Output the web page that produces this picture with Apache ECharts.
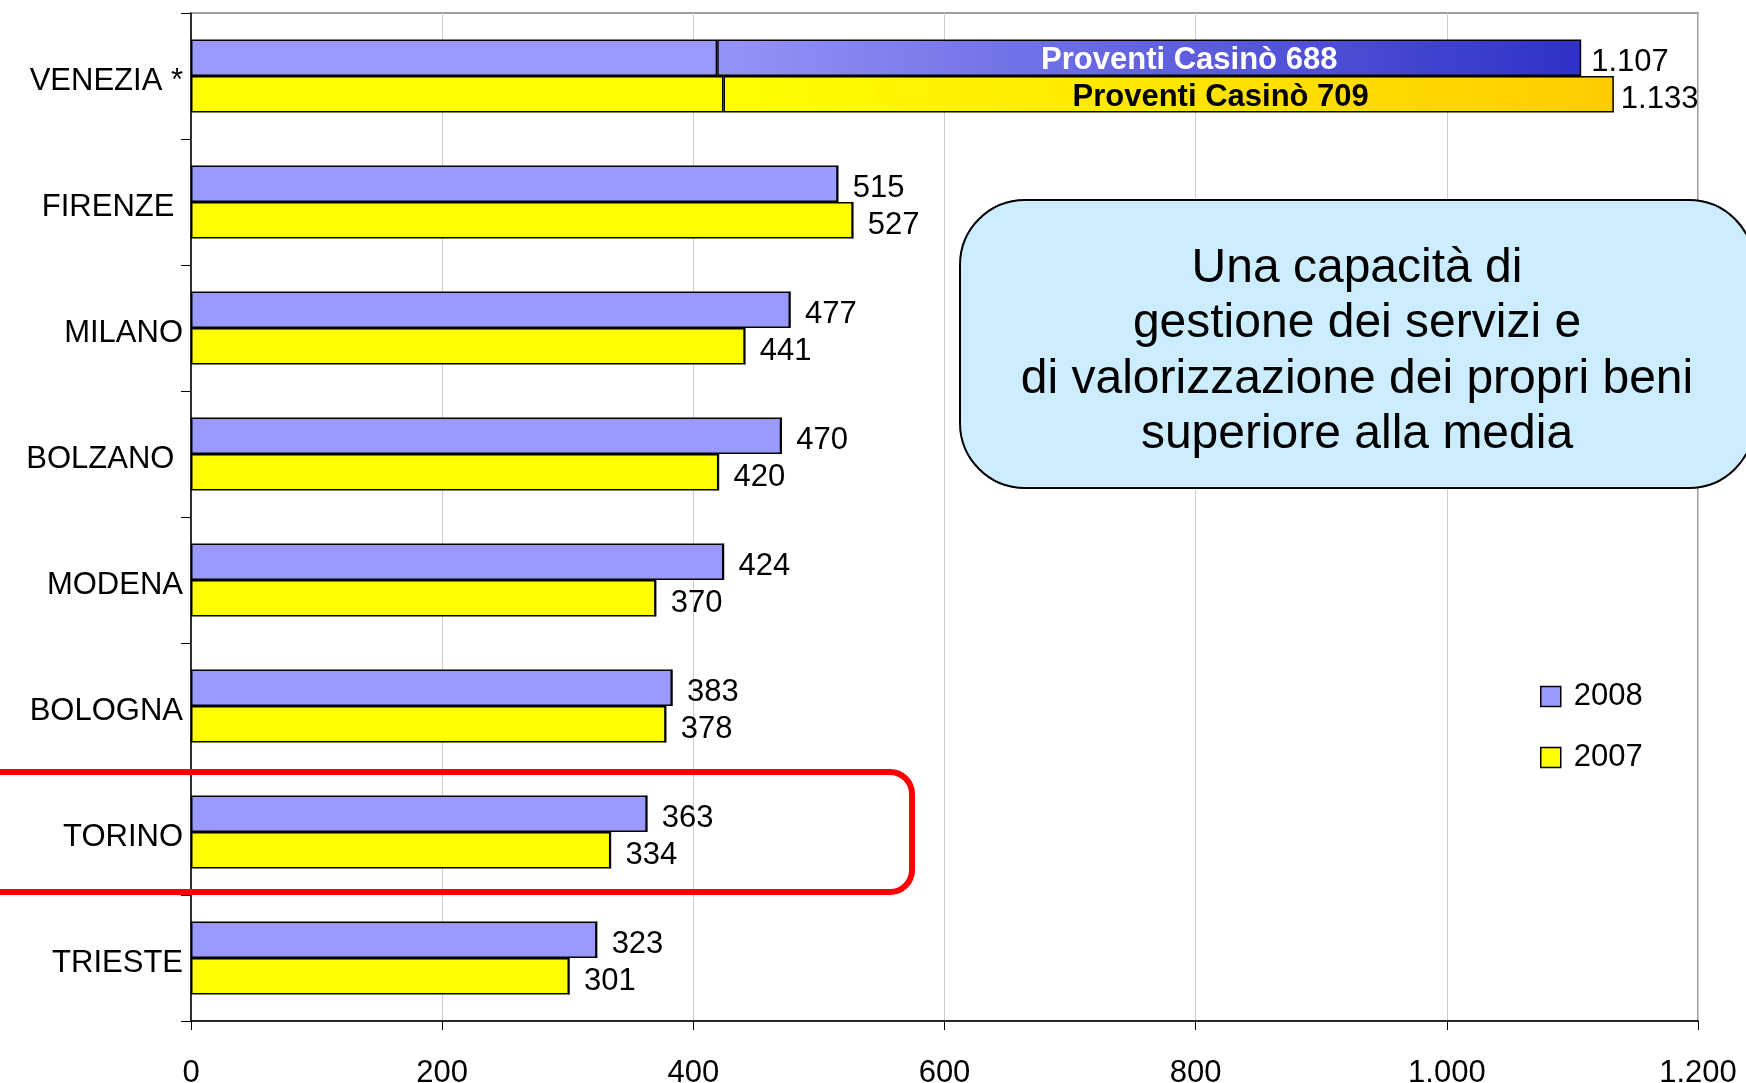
<!DOCTYPE html>
<html>
<head>
<meta charset="utf-8">
<script src="https://cdn.jsdelivr.net/npm/echarts@6/dist/echarts.min.js"></script>
<style>
html,body{margin:0;padding:0;background:#fff;}
#chart{width:1746px;height:1083px;}
</style>
</head>
<body>
<div id="chart"></div>
<script>
// ---- data ----
const categories = ['VENEZIA *', 'FIRENZE ', 'MILANO', 'BOLZANO ', 'MODENA', 'BOLOGNA', 'TORINO', 'TRIESTE'];
const total2008 = [1107, 515, 477, 470, 424, 383, 363, 323];
const total2007 = [1133, 527, 441, 420, 370, 378, 334, 301];
const casino2008 = [688, 0, 0, 0, 0, 0, 0, 0];
const casino2007 = [709, 0, 0, 0, 0, 0, 0, 0];
const seriesNames = ['2008', '2007'];
const casinoLabel = 'Proventi Casinò';
const xMin = 0, xMax = 1200, xStep = 200;
const calloutText = ['Una capacità di', 'gestione dei servizi e', 'di valorizzazione dei propri beni', 'superiore alla media'];

// ---- helpers ----
function itFmt(v) { return String(v).replace(/\B(?=(\d{3})+(?!\d))/g, '.'); }
const base2008 = total2008.map((t, i) => t - casino2008[i]);
const base2007 = total2007.map((t, i) => t - casino2007[i]);
const zeros = categories.map(() => 0);

const FONT = 'Liberation Sans, Arial, sans-serif';
const border = { borderColor: '#000', borderWidth: 1.5 };

const blueGrad = new echarts.graphic.LinearGradient(0, 0, 1, 0, [
  { offset: 0, color: '#9494F8' }, { offset: 1, color: '#3030C8' }]);
const yellowGrad = new echarts.graphic.LinearGradient(0, 0, 1, 0, [
  { offset: 0, color: '#FFFF00' }, { offset: 1, color: '#FFCC00' }]);

function capSeries(name, stack, totals, venDist) {
  return {
    name: name, type: 'bar', stack: stack, data: zeros.map((z, i) => ({
      value: z,
      label: { distance: i === 0 ? venDist : 15 }
    })),
    itemStyle: { color: 'rgba(0,0,0,0)', borderWidth: 0 },
    label: {
      show: true, position: 'right', color: '#000', fontSize: 31, fontFamily: FONT, offset: [0, 5],
      formatter: p => itFmt(totals[p.dataIndex])
    },
    silent: true
  };
}
function casinoSeries(name, stack, values, grad, txtColor, offX) {
  return {
    name: name, type: 'bar', stack: stack, data: values,
    itemStyle: Object.assign({ color: grad }, border),
    label: {
      show: true, position: 'inside', color: txtColor, fontWeight: 'bold', fontSize: 31,
      fontFamily: FONT, offset: [offX, 3],
      formatter: p => p.value ? casinoLabel + ' ' + p.value : ''
    }
  };
}

const chart = echarts.init(document.getElementById('chart'), null, { renderer: 'canvas' });
chart.setOption({
  animation: false,
  textStyle: { fontFamily: FONT },
  grid: { left: 191, right: 48, top: 13, bottom: 62, show: true, borderColor: '#808080', borderWidth: 1.5,
    containLabel: false, outerBoundsMode: 'none' },
  xAxis: {
    type: 'value', min: xMin, max: xMax, interval: xStep,
    axisLine: { show: true, lineStyle: { color: '#000', width: 1.5 } },
    axisTick: { show: true, length: 9, lineStyle: { color: '#000', width: 1 } },
    splitLine: { show: true, lineStyle: { color: '#cccccc', width: 1 } },
    axisLabel: { color: '#000', fontSize: 31, margin: 37, fontFamily: FONT, formatter: v => itFmt(v) }
  },
  yAxis: {
    type: 'category', data: categories, inverse: true,
    axisLine: { show: true, lineStyle: { color: '#000', width: 1.5 } },
    axisTick: { show: true, length: 10, alignWithLabel: false, lineStyle: { color: '#000', width: 1 } },
    axisLabel: { color: '#000', fontSize: 31, margin: 8, fontFamily: FONT,
      formatter: v => '{c|' + v + '}',
      rich: { c: { fontSize: 31, fontFamily: FONT, color: '#000', padding: [10, 0, 0, 0] } } }
  },
  legend: {
    data: seriesNames, orient: 'vertical', left: 1535, top: 676,
    itemWidth: 20, itemHeight: 20, itemGap: 30, icon: 'rect',
    itemStyle: { borderColor: '#000', borderWidth: 1.5 },
    textStyle: { color: '#000', fontSize: 31, fontFamily: FONT, lineHeight: 31, padding: [0, 0, 0, 8] }
  },
  series: [
    { name: seriesNames[0], type: 'bar', stack: 's2008', data: base2008, barCategoryGap: '42%', barGap: '0%',
      itemStyle: Object.assign({ color: '#9999FF' }, border) },
    casinoSeries('Casinò ' + seriesNames[0], 's2008', casino2008, blueGrad, '#fff', 40),
    capSeries('Totale ' + seriesNames[0], 's2008', total2008, 10),
    { name: seriesNames[1], type: 'bar', stack: 's2007', data: base2007, barCategoryGap: '42%', barGap: '0%',
      itemStyle: Object.assign({ color: '#FFFF00' }, border) },
    casinoSeries('Casinò ' + seriesNames[1], 's2007', casino2007, yellowGrad, '#000', 52),
    capSeries('Totale ' + seriesNames[1], 's2007', total2007, 7)
  ],
  graphic: [
    { type: 'rect', shape: { x: 960, y: 200, width: 794, height: 288, r: 65 },
      style: { fill: '#CCECFF', stroke: '#000', lineWidth: 2 }, z: 100 },
    { type: 'text', x: 1357, y: 352, z: 101,
      style: { text: calloutText.join('\n'), fontSize: 48, fontFamily: FONT, fill: '#000',
        align: 'center', verticalAlign: 'middle', lineHeight: 55.5 } },
    { type: 'rect', shape: { x: -30, y: 772, width: 942, height: 120, r: 22 },
      style: { fill: 'none', stroke: '#FF0000', lineWidth: 6 }, z: 100 }
  ]
});
</script>
</body>
</html>
